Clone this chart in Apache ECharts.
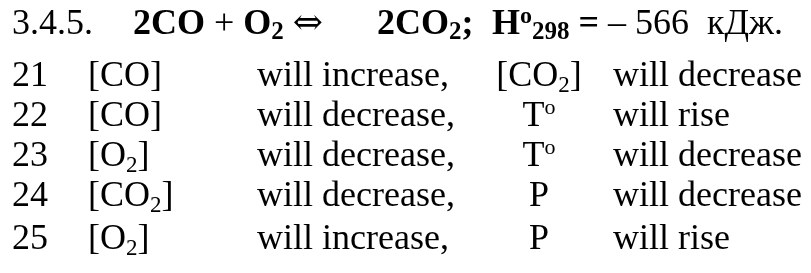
<!DOCTYPE html>
<html>
<head>
<meta charset="utf-8">
<script src="https://cdn.jsdelivr.net/npm/echarts@6/dist/echarts.min.js"></script>
<style>
  html, body { margin: 0; padding: 0; background: #fff; }
  #chart { width: 811px; height: 273px; }
</style>
</head>
<body>
<div id="chart"></div>
<script>
// rows of the table (rich text markup: {s|..} = subscript)
var rowNumbers = ['21', '22', '23', '24', '25'];
var substances = ['[CO]', '[CO]', '[O{s|2}]', '[CO{s|2}]', '[O{s|2}]'];
var firstChanges = ['will increase,', 'will decrease,', 'will decrease,', 'will decrease,', 'will increase,'];
var factors = ['[CO{s|2}]', 'T{sup|o}', 'T{sup|o}', 'P', 'P'];
var secondChanges = ['will decrease', 'will rise', 'will decrease', 'will decrease', 'will rise'];

// heading pieces
var titleParts = [
    '3.4.5.',
    '{b|2CO} + {b|O}{bs|2} {arr|⇔}',
    '{b|2CO}{bs|2}{b|;}',
    '{b|H}{bsup|o}{bs|298}{b| =} – 566  кДж.'
];

// layout only
var rowBase = [85, 125, 165, 205, 248];
var colX = {num: 12, sub: 88, ch1: 257, fac: 539, ch2: 613};
var titleX = [12, 133, 377, 492];
var titleBase = 33;

var font = '"Liberation Serif", "Times New Roman", serif';
var fs = 36, lh = 40;
var rich = {
    s: {fontSize: 23, lineHeight: 22, verticalAlign: 'bottom', fontFamily: font, fill: '#000'},
    sup: {fontSize: 22, lineHeight: 20, verticalAlign: 'top', fontFamily: font, fill: '#000'},
    b: {fontSize: fs, lineHeight: lh, fontWeight: 'bold', fontFamily: font, fill: '#000'},
    bs: {fontSize: 25, lineHeight: 34, verticalAlign: 'bottom', fontWeight: 'bold', fontFamily: font, fill: '#000'},
    bsup: {fontSize: 24, lineHeight: 24, verticalAlign: 'top', fontWeight: 'bold', fontFamily: font, fill: '#000'},
    arr: {fontSize: 36, lineHeight: 40, fontFamily: '"DejaVu Serif", serif', fill: '#000'}
};

function cell(x, base, txt, align) {
    return {
        type: 'text',
        x: x,
        y: base - 28,
        style: {
            text: txt,
            fontSize: fs,
            lineHeight: lh,
            fontFamily: font,
            fill: '#000',
            align: align || 'left',
            verticalAlign: 'top',
            rich: rich
        }
    };
}

var elements = [];
titleParts.forEach(function (t, i) {
    elements.push(cell(titleX[i], titleBase, t));
});
rowNumbers.forEach(function (n, i) {
    elements.push(cell(colX.num, rowBase[i], n));
    elements.push(cell(colX.sub, rowBase[i], substances[i]));
    elements.push(cell(colX.ch1, rowBase[i], firstChanges[i]));
    elements.push(cell(colX.fac, rowBase[i], factors[i], 'center'));
    elements.push(cell(colX.ch2, rowBase[i], secondChanges[i]));
});

var chart = echarts.init(document.getElementById('chart'));
chart.setOption({
    backgroundColor: '#fff',
    graphic: elements
});
</script>
</body>
</html>
